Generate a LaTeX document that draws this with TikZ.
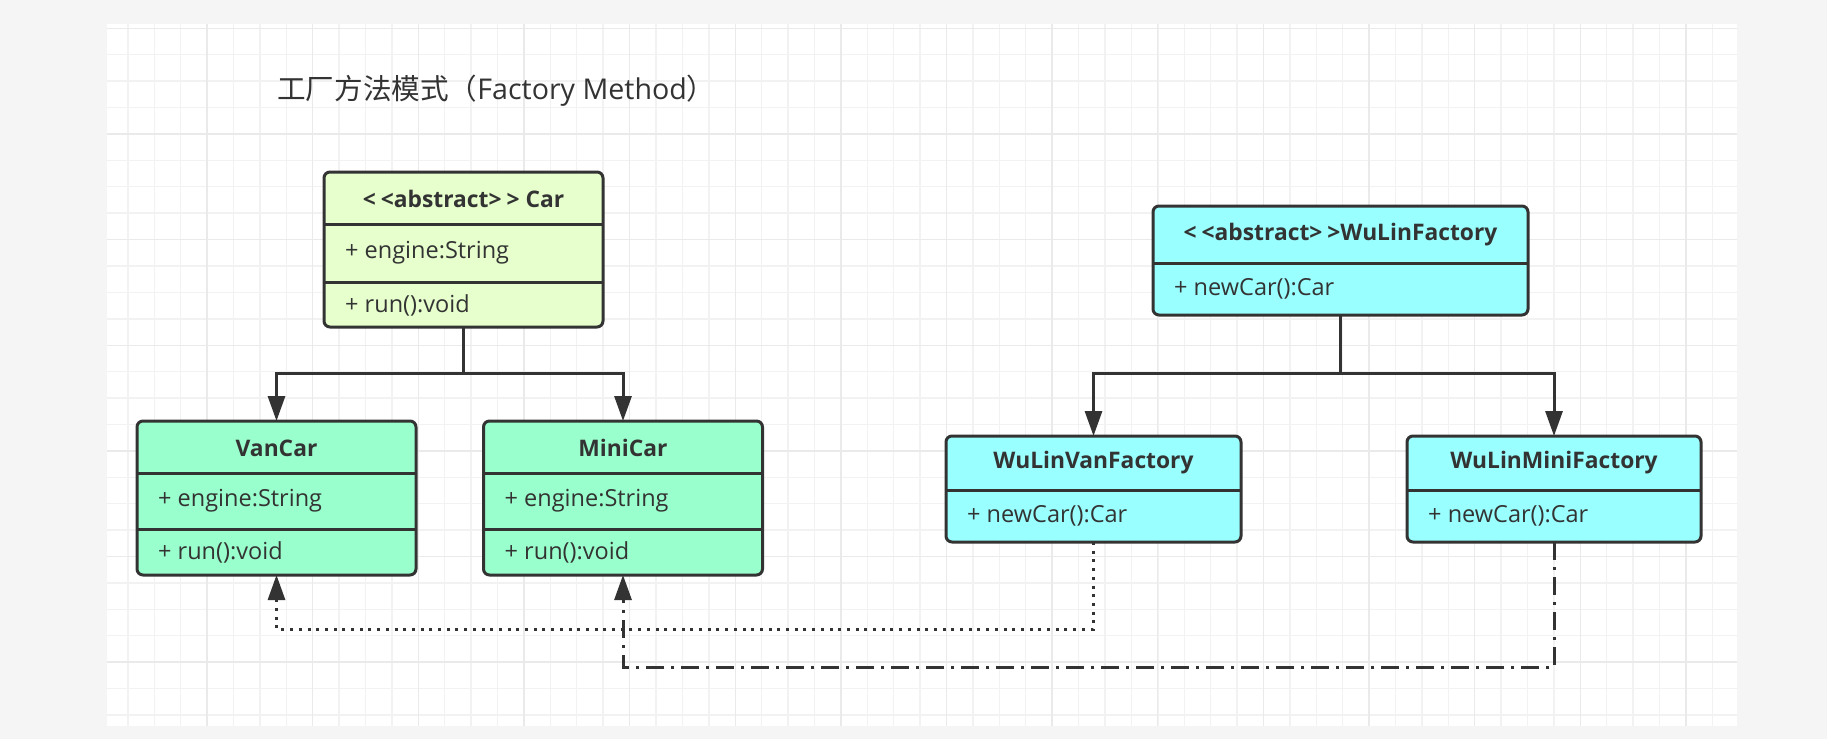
\documentclass[tikz,border=0pt]{standalone}
\usepackage{fontspec}
\setmainfont{Open Sans}
\newfontfamily\cjk{Noto Sans CJK SC}
\usetikzlibrary{arrows.meta}
\definecolor{bgout}{HTML}{F5F5F5}
\definecolor{gminorc}{HTML}{F2F2F2}
\definecolor{gmajorc}{HTML}{EAEAEA}
\definecolor{ink}{HTML}{333333}
\definecolor{carfill}{HTML}{E6FFCC}
\definecolor{subfill}{HTML}{99FFCC}
\definecolor{facfill}{HTML}{99FFFF}
\newcommand{\lt}{<\hspace{5pt}<}
\newcommand{\gt}{>\hspace{5pt}>}
\begin{document}
\begin{tikzpicture}[x=1pt,y=-1pt,
  classbox/.style={draw=ink, line width=3pt, rounded corners=6pt, anchor=north west, inner sep=0pt, outer sep=0pt},
  sepline/.style={draw=ink, line width=3pt},
  hdr/.style={font=\fontsize{22.8}{27}\selectfont\bfseries, text=ink, inner sep=0pt},
  mem/.style={font=\fontsize{23.5}{28}\selectfont, text=ink, anchor=west, inner sep=0pt},
  conn/.style={draw=ink, line width=3pt, -{Triangle[width=17pt,length=25pt]}},
  dotconn/.style={conn, dash pattern=on 3pt off 5.7pt},
  dashdotconn/.style={conn, dash pattern=on 18pt off 7pt on 3pt off 7pt},
  gminor/.style={draw=gminorc, line width=1.4pt},
  gmajor/.style={draw=gmajorc, line width=1.4pt}
]
\useasboundingbox (0,0) rectangle (1827,739);
\fill[bgout] (0,0) rectangle (1827,739);
\fill[white] (107,24) rectangle (1737,726);
% grid
\foreach \k in {0,...,60} \draw[gminor] (127.8+26.41*\k,24) -- (127.8+26.41*\k,726);
\foreach \k in {0,...,26} \draw[gminor] (107,28.3+26.41*\k) -- (1737,28.3+26.41*\k);
\foreach \k in {0,...,14} \draw[gmajor] (207+105.64*\k,24) -- (207+105.64*\k,726);
\foreach \k in {0,...,6} \draw[gmajor] (107,28.3+105.64*\k) -- (1737,28.3+105.64*\k);

% title
\node[anchor=west, text=ink, inner sep=0pt, font=\fontsize{28.6}{33}\selectfont] (title) at (277,91) {{\cjk 工厂方法模式（}Factory Method{\cjk ）}};

% Car
\node[classbox, fill=carfill, minimum width=279pt, minimum height=155pt] (car) at (324,172) {};
\draw[sepline] (324,224) -- (603,224);
\draw[sepline] (324,282) -- (603,282);
\node[hdr] (carh) at (463.5,199) {\lt abstract\gt{} Car};
\node[mem] (cara) at (345,253) {+ engine:String};
\node[mem] (carm) at (345,305) {+ run():void};

% VanCar
\node[classbox, fill=subfill, minimum width=279pt, minimum height=154pt] (vancar) at (137,421) {};
\draw[sepline] (137,473) -- (416,473);
\draw[sepline] (137,529) -- (416,529);
\node[hdr] (vanh) at (276.5,448) {VanCar};
\node[mem] (vana) at (158,501) {+ engine:String};
\node[mem] (vanm) at (158,552) {+ run():void};

% MiniCar
\node[classbox, fill=subfill, minimum width=279pt, minimum height=154pt] (minicar) at (483.5,421) {};
\draw[sepline] (483.5,473) -- (762.5,473);
\draw[sepline] (483.5,529) -- (762.5,529);
\node[hdr] (minih) at (623,448) {MiniCar};
\node[mem] (minia) at (504.5,501) {+ engine:String};
\node[mem] (minim) at (504.5,552) {+ run():void};

% WuLinFactory
\node[classbox, fill=facfill, minimum width=375pt, minimum height=109pt] (wlf) at (1153,206) {};
\draw[sepline] (1153,263) -- (1528,263);
\node[hdr] (wlfh) at (1340.5,235) {\lt abstract\gt WuLinFactory};
\node[mem] (wlfm) at (1174,289) {+ newCar():Car};

% WuLinVanFactory
\node[classbox, fill=facfill, minimum width=295pt, minimum height=106pt] (wlvf) at (946,436) {};
\draw[sepline] (946,490) -- (1241,490);
\node[hdr] (wlvfh) at (1093.5,463) {WuLinVanFactory};
\node[mem] (wlvfm) at (967,516) {+ newCar():Car};

% WuLinMiniFactory
\node[classbox, fill=facfill, minimum width=294pt, minimum height=106pt] (wlmf) at (1407,436) {};
\draw[sepline] (1407,490) -- (1701,490);
\node[hdr] (wlmfh) at (1554,463) {WuLinMiniFactory};
\node[mem] (wlmfm) at (1428,516) {+ newCar():Car};

% connectors
\coordinate (busC) at (463.5,373);
\coordinate (busF) at (1340.5,373);
\draw[conn] (car.south) -- (busC) -| (vancar.north);
\draw[conn] (busC) -| (minicar.north);
\draw[conn] (wlf.south) -- (busF) -| (wlvf.north);
\draw[conn] (busF) -| (wlmf.north);
\coordinate (dv) at (1093.5,629);
\coordinate (dm) at (1554,667);
\draw[dotconn] (wlvf.south) -- (dv) -| (vancar.south);
\draw[dashdotconn] (wlmf.south) -- (dm) -| (minicar.south);
\end{tikzpicture}
\end{document}
